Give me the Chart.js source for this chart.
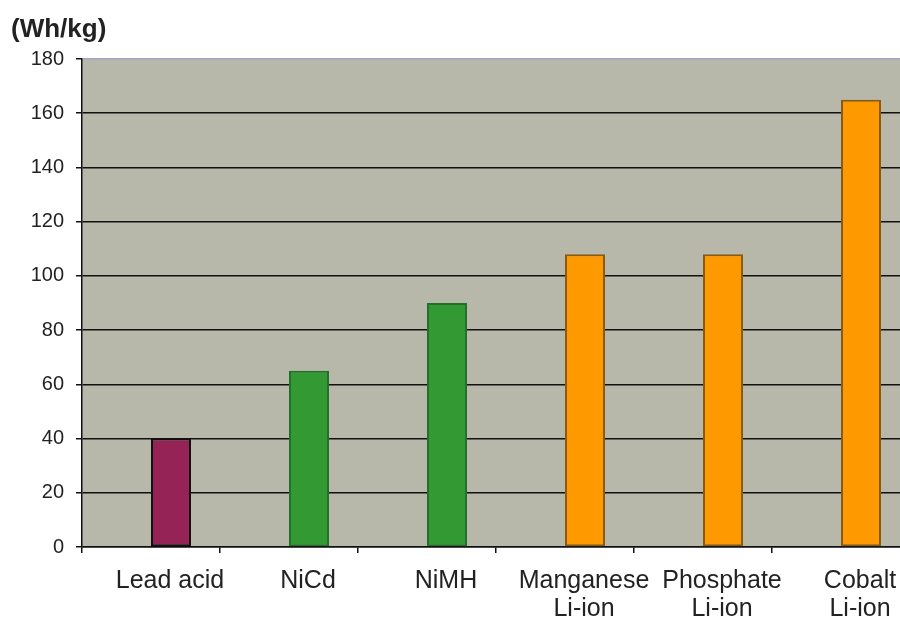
<!DOCTYPE html>
<html>
<head>
<meta charset="utf-8">
<script src="https://cdn.jsdelivr.net/npm/chart.js@4"></script>
<style>
  html, body { margin: 0; padding: 0; background: #fff; overflow: hidden; width: 900px; height: 617px; }
  #wrap { position: relative; width: 900px; height: 617px; overflow: hidden; }
  canvas { position: absolute; left: 0; top: 0; }
  #unit { position: absolute; left: 11px; top: 13px; font: bold 26px "Liberation Sans", Arial, sans-serif; color: #222; }
</style>
</head>
<body>
<div id="wrap">
  <canvas id="c" width="920" height="617"></canvas>
  <div id="unit">(Wh/kg)</div>
</div>
<script>
const categories = ["Lead acid", "NiCd", "NiMH", ["Manganese", "Li-ion"], ["Phosphate", "Li-ion"], ["Cobalt", "Li-ion"]];
const energyDensity = [40, 65, 90, 108, 108, 165];
const spacer = [null, null, null, null, null, null];
const barColors = ["#952355", "#339933", "#339933", "#FF9900", "#FF9900", "#FF9900"];
const barBorders = ["#111111", "#22702a", "#22702a", "#8a5a10", "#8a5a10", "#8a5a10"];
const yTicks = [0, 20, 40, 60, 80, 100, 120, 140, 160, 180];

const bgPlugin = {
  id: 'plotBg',
  beforeDraw(chart) {
    const a = chart.chartArea, ctx = chart.ctx;
    ctx.save();
    ctx.fillStyle = '#B7B7AA';
    ctx.fillRect(a.left, a.top, a.right - a.left, a.bottom - a.top);
    ctx.restore();
  }
};

new Chart(document.getElementById('c'), {
  type: 'bar',
  data: {
    labels: categories,
    datasets: [
      { data: spacer },
      {
        data: energyDensity,
        backgroundColor: barColors,
        borderColor: barBorders,
        borderWidth: 2,
        borderSkipped: false
      }
    ]
  },
  options: {
    responsive: false,
    animation: false,
    devicePixelRatio: 1,
    categoryPercentage: 0.58,
    barPercentage: 1.0,
    layout: { padding: { top: 59, right: 10, left: 0, bottom: 0 } },
    plugins: { legend: { display: false }, tooltip: { enabled: false }, title: { display: false } },
    scales: {
      x: {
        offset: true,
        grid: { offset: true, drawOnChartArea: false, color: '#111', tickLength: 6, lineWidth: 1.5 },
        border: { display: true, color: '#111', width: 1.5 },
        ticks: {
          color: '#222',
          font: { family: '"Liberation Sans", Arial, sans-serif', size: 25, lineHeight: 1.12 },
          labelOffset: 19,
          padding: 14,
          maxRotation: 0,
          autoSkip: false
        },
        afterFit(scale) { scale.height = 70; }
      },
      y: {
        min: 0,
        max: 180,
        afterBuildTicks(scale) { scale.ticks = yTicks.map(v => ({ value: v })); },
        grid: {
          color: ctx => (ctx.tick && ctx.tick.value === 180) ? '#A4A4C8' : '#111',
          tickColor: '#111',
          tickLength: 6,
          lineWidth: 1.5
        },
        border: { display: true, color: '#111', width: 1.5 },
        ticks: {
          color: '#222',
          font: { family: '"Liberation Sans", Arial, sans-serif', size: 20 },
          padding: 12
        },
        afterFit(scale) { scale.width = 82; }
      }
    }
  },
  plugins: [bgPlugin]
});
</script>
</body>
</html>
